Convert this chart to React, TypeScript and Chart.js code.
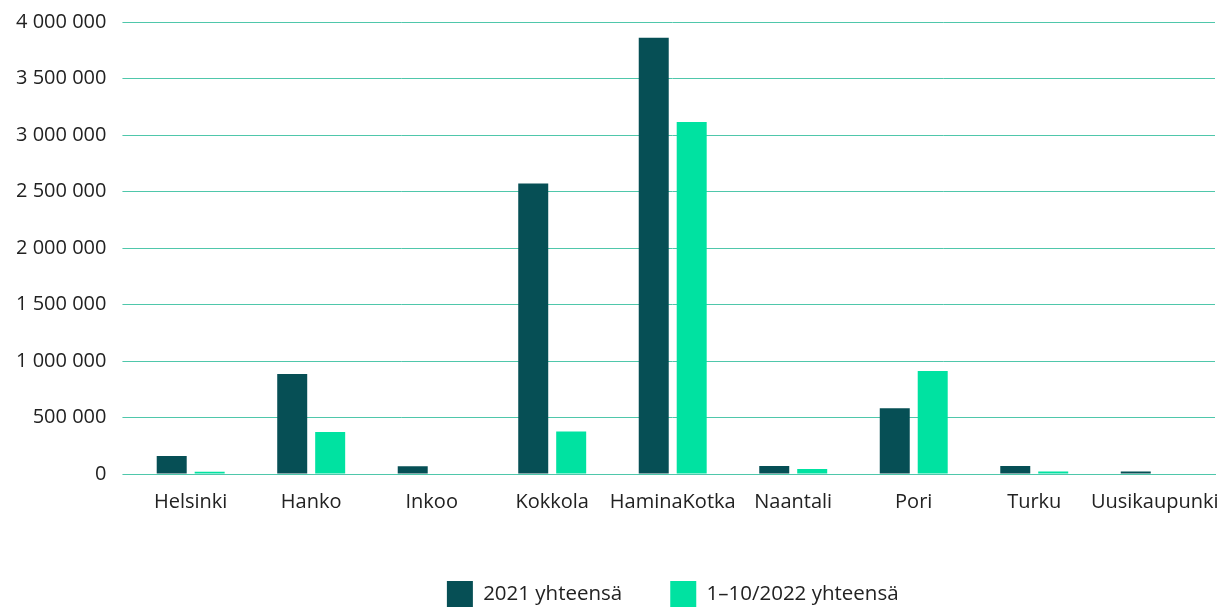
import React, { useEffect, useRef } from "react";
import { Chart, registerables } from "chart.js";

Chart.register(...registerables);

const categories = ["Helsinki", "Hanko", "Inkoo", "Kokkola", "HaminaKotka", "Naantali", "Pori", "Turku", "Uusikaupunki"];
const series2021 = [160000, 886000, 68000, 2570000, 3860000, 70000, 582000, 70000, 22000];
const series2022 = [20000, 372000, 0, 377000, 3114000, 44000, 912000, 22000, 0];
const seriesLabels = ["2021 yhteensä", "1–10/2022 yhteensä"];
const seriesColors = ["#064f55", "#00e2a1"];
const gridColor = "#4fc7ab";

function fmt(v: number): string {
  return String(Math.round(v)).replace(/\B(?=(\d{3})+(?!\d))/g, " ");
}

export default function App() {
  const ref = useRef<HTMLCanvasElement | null>(null);
  useEffect(() => {
    if (!ref.current) return;
    const font = "'Open Sans', 'Noto Sans', sans-serif";
    const chart = new Chart(ref.current, {
      type: "bar",
      data: {
        labels: categories,
        datasets: [
          { label: seriesLabels[0], data: series2021, backgroundColor: seriesColors[0], barPercentage: 0.79, categoryPercentage: 0.63 },
          { label: seriesLabels[1], data: series2022, backgroundColor: seriesColors[1], barPercentage: 0.79, categoryPercentage: 0.63 },
        ],
      },
      options: {
        animation: false,
        responsive: true,
        maintainAspectRatio: false,
        layout: { padding: { top: 0, right: 10, left: 0, bottom: 0 } },
        plugins: {
          tooltip: { enabled: false },
          legend: {
            position: "bottom",
            fullSize: false,
            labels: {
              boxWidth: 26,
              boxHeight: 26,
              padding: 48,
              color: "#222",
              font: { family: font, size: 20.5 },
            },
          },
        },
        scales: {
          x: {
            grid: { display: true, drawOnChartArea: false, drawTicks: true, tickLength: 13, color: "rgba(0,0,0,0)", tickColor: "rgba(0,0,0,0)" },
            border: { display: true, color: gridColor, width: 1 },
            ticks: { color: "#222", font: { family: font, size: 20 }, padding: 3, maxRotation: 0, autoSkip: false },
            afterFit: (scale: any) => { scale.height += 16; },
          },
          y: {
            min: 0,
            max: 4000000,
            ticks: { stepSize: 500000, color: "#222", font: { family: font, size: 20 }, padding: 16, callback: (v: any) => fmt(Number(v)) },
            grid: { color: gridColor, tickLength: 8, tickColor: gridColor },
            border: { display: false },
          },
        },
      },
    });
    return () => chart.destroy();
  }, []);
  return (
    <div style={{ position: "fixed", left: 0, top: -6, width: 1225, height: 623 }}>
      <canvas ref={ref} />
    </div>
  );
}
